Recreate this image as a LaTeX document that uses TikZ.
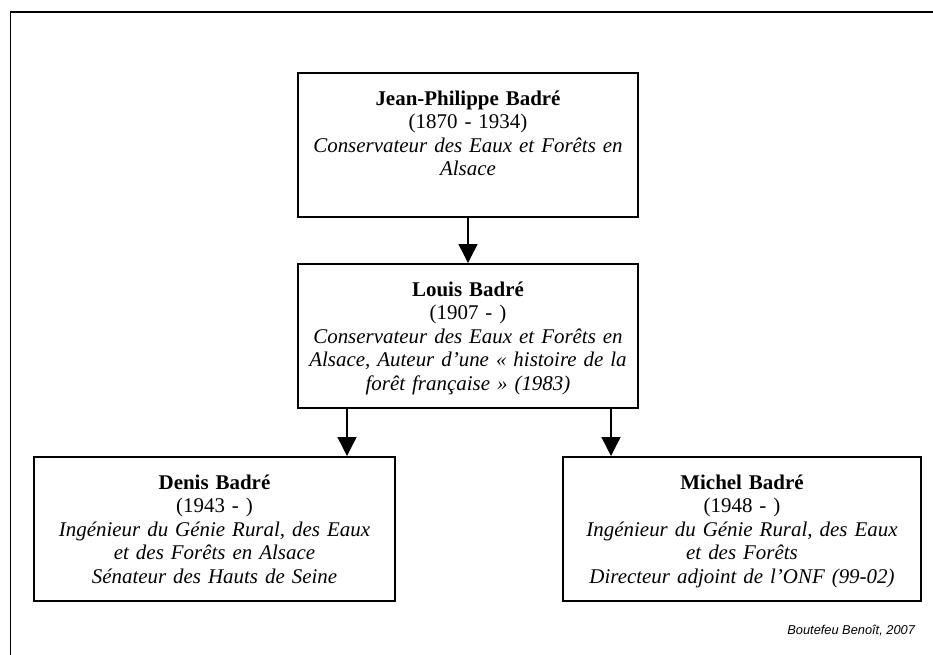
\documentclass[tikz,border=0pt]{standalone}
\usepackage{fontspec}
\setmainfont{Liberation Serif}
\setsansfont{Liberation Sans}
\usetikzlibrary{arrows.meta,positioning,calc}

\begin{document}
\begin{tikzpicture}[x=0.585pt, y=-0.585pt,
    person/.style={draw, line width=1.2pt, anchor=north, inner xsep=0pt, inner ysep=0pt, align=center, text height=18.8pt, text depth=65.4pt, font=\fontsize{12.25}{13.8}\selectfont},
    arrowstyle/.style={-{Triangle[width=11pt,length=11pt]}, line width=0.8pt}
  ]
  \useasboundingbox (0,0) rectangle (933,654);
  \draw[line width=0.9pt] (10.5,670) -- (10.5,12) -- (950,12);

  \node[person, text width=198.9pt] (jp) at (468,72) {\textbf{Jean-Philippe Badré}\\(1870 - 1934)\\\textit{Conservateur des Eaux et Forêts en}\\\textit{Alsace}};
  \node[person, text width=198.9pt] (louis) at (468,263) {\textbf{Louis Badré}\\(1907 - )\\\textit{Conservateur des Eaux et Forêts en}\\\textit{Alsace, Auteur d’une « histoire de la}\\\textit{forêt française » (1983)}};
  \node[person, text width=211.2pt] (denis) at (214.5,456) {\textbf{Denis Badré}\\(1943 - )\\\textit{Ingénieur du Génie Rural, des Eaux}\\\textit{et des Forêts en Alsace}\\\textit{Sénateur des Hauts de Seine}};
  \node[person, text width=209.4pt] (michel) at (742,456) {\textbf{Michel Badré}\\(1948 - )\\\textit{Ingénieur du Génie Rural, des Eaux}\\\textit{et des Forêts}\\\textit{Directeur adjoint de l’ONF (99-02)}};

  \node[font=\sffamily\itshape\fontsize{7.5}{9}\selectfont, anchor=base east] (credit) at (921,634) {Boutefeu Benoît, 2007};

  % filiation
  \coordinate (toDenis) at ($(louis.south)+(-121,0)$);
  \coordinate (toMichel) at ($(louis.south)+(143,0)$);
  \draw[arrowstyle] (jp) -- (louis);
  \draw[arrowstyle] (toDenis) -- (toDenis |- denis.north);
  \draw[arrowstyle] (toMichel) -- (toMichel |- michel.north);
\end{tikzpicture}
\end{document}
